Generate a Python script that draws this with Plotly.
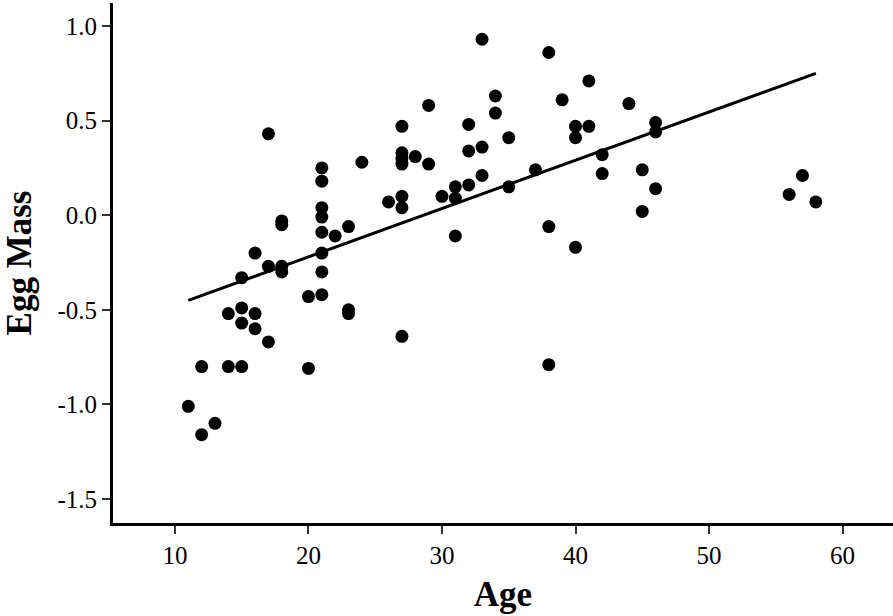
import plotly.graph_objects as go

# Data
age = [11,
       12, 12,
       13,
       14, 14,
       15, 15, 15, 15,
       16, 16, 16,
       17, 17, 17,
       18, 18, 18, 18,
       20, 20,
       21, 21, 21, 21, 21, 21, 21, 21,
       22,
       23, 23, 23,
       24,
       26,
       27, 27, 27, 27, 27, 27, 27,
       28,
       29, 29,
       30,
       31, 31, 31,
       32, 32, 32,
       33, 33, 33,
       34, 34,
       35, 35,
       37,
       38, 38, 38,
       39,
       40, 40, 40,
       41, 41,
       42, 42,
       44,
       45, 45,
       46, 46, 46,
       56, 57, 58]

egg_mass = [-1.01,
            -0.80, -1.16,
            -1.10,
            -0.52, -0.80,
            -0.33, -0.49, -0.57, -0.80,
            -0.20, -0.52, -0.60,
            0.43, -0.27, -0.67,
            -0.03, -0.05, -0.27, -0.30,
            -0.43, -0.81,
            0.25, 0.18, 0.04, -0.01, -0.09, -0.20, -0.30, -0.42,
            -0.11,
            -0.06, -0.50, -0.52,
            0.28,
            0.07,
            0.47, 0.33, 0.30, 0.27, 0.10, 0.04, -0.64,
            0.31,
            0.58, 0.27,
            0.10,
            0.15, 0.09, -0.11,
            0.48, 0.34, 0.16,
            0.93, 0.36, 0.21,
            0.63, 0.54,
            0.41, 0.15,
            0.24,
            0.86, -0.06, -0.79,
            0.61,
            0.47, 0.41, -0.17,
            0.71, 0.47,
            0.32, 0.22,
            0.59,
            0.24, 0.02,
            0.49, 0.44, 0.14,
            0.11, 0.21, 0.07]

fit_age = [11, 58]
fit_mass = [-0.45, 0.75]

x_tickvals = [10, 20, 30, 40, 50, 60]
x_ticktext = ["10", "20", "30", "40", "50", "60"]
y_tickvals = [1.0, 0.5, 0.0, -0.5, -1.0, -1.5]
y_ticktext = ["1.0", "0.5", "0.0", "-0.5", "-1.0", "-1.5"]

FONT = "Liberation Serif"
TICK_SIZE = 25

fig = go.Figure()
fig.add_trace(go.Scatter(
    x=age, y=egg_mass, mode="markers",
    marker=dict(color="black", size=13, line=dict(width=0)),
    showlegend=False,
))
fig.add_trace(go.Scatter(
    x=fit_age, y=fit_mass, mode="lines",
    line=dict(color="black", width=3),
    showlegend=False,
))

fig.update_layout(
    width=893, height=616,
    margin=dict(l=113, r=0, t=3, b=93),
    plot_bgcolor="white", paper_bgcolor="white",
    font=dict(family=FONT, color="black", size=TICK_SIZE),
    xaxis=dict(
        range=[5.36, 63.78], automargin=False,
        tickvals=x_tickvals, ticktext=x_ticktext,
        showgrid=False, zeroline=False,
        showline=True, linecolor="black", linewidth=3,
        ticks="outside", ticklen=8, tickwidth=1.5, tickcolor="#333",
        tickfont=dict(family=FONT, size=TICK_SIZE, color="black"),
        title=dict(text="<b>Age</b>", font=dict(family=FONT, size=35, color="black"), standoff=14),
    ),
    yaxis=dict(
        range=[-1.6268, 1.1216], automargin=False,
        tickvals=y_tickvals, ticktext=y_ticktext,
        showgrid=False, zeroline=False,
        showline=True, linecolor="black", linewidth=3,
        ticks="outside", ticklen=8, tickwidth=1.5, tickcolor="#333",
        tickfont=dict(family=FONT, size=TICK_SIZE, color="black"),
        title=dict(text="<b>Egg Mass</b>", font=dict(family=FONT, size=35, color="black"), standoff=22),
    ),
)

fig.write_html("out.html", config={"displayModeBar": False},
               post_script="document.body.style.margin='0';")
